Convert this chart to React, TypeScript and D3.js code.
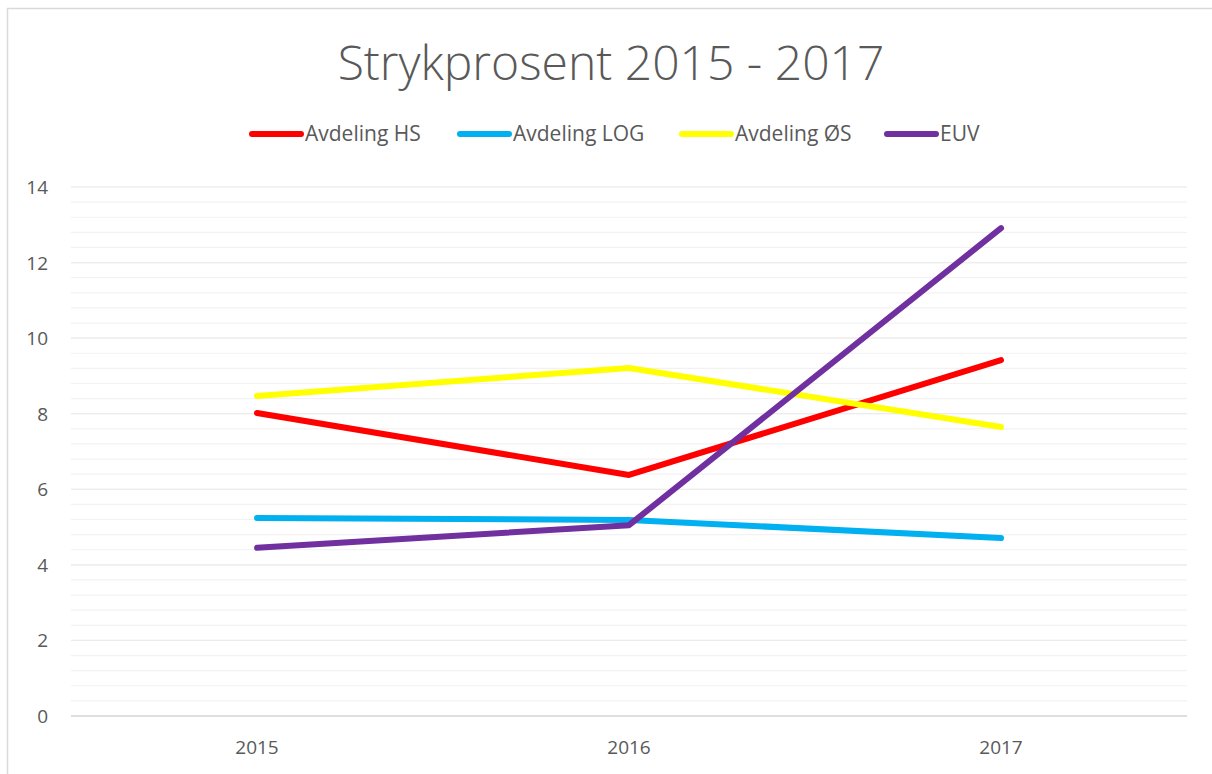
import React from "react";
import * as d3 from "d3";

const years = ["2015", "2016", "2017"];
const seriesNames = ["Avdeling HS", "Avdeling LOG", "Avdeling ØS", "EUV"];
const seriesColors = ["#ff0000", "#00b0f0", "#ffff00", "#7030a0"];
const hsValues = [8.02, 6.38, 9.42];
const logValues = [5.24, 5.19, 4.71];
const osValues = [8.47, 9.21, 7.65];
const euvValues = [4.45, 5.05, 12.91];
const yTicks = [0, 2, 4, 6, 8, 10, 12, 14];

const W = 1212;
const H = 774;
const FONT = "'Open Sans', 'Noto Sans', sans-serif";

export default function App() {
  const allValues = [hsValues, logValues, osValues, euvValues];
  const x = d3.scaleBand().domain(years).range([71, 1187]);
  const y = d3.scaleLinear().domain([0, 14]).range([716, 187]);
  const minor = d3.range(0, 14.001, 0.4).map((v) => +v.toFixed(1));
  const line = d3
    .line<number>()
    .x((_, i) => (x(years[i]) as number) + x.bandwidth() / 2)
    .y((v) => y(v));

  const legendTextX = [305, 513, 735, 940];

  return (
    <svg width={W} height={H} style={{ position: "absolute", left: 0, top: 0, display: "block" }}>
      <rect x={0} y={0} width={W} height={H} fill="#fff" />
      <line x1={7.5} y1={8} x2={7.5} y2={H} stroke="#d9d9d9" strokeWidth={1.5} />
      <line x1={7} y1={8.5} x2={W} y2={8.5} stroke="#d9d9d9" strokeWidth={1.5} />
      <text
        x={611}
        y={80}
        textAnchor="middle"
        fontFamily={FONT}
        fontWeight={300}
        fontSize={48}
        fill="#595959"
      >
        Strykprosent 2015 - 2017
      </text>
      {seriesNames.map((name, i) => (
        <g key={name}>
          <line
            x1={legendTextX[i] - 53}
            x2={legendTextX[i] - 4}
            y1={134}
            y2={134}
            stroke={seriesColors[i]}
            strokeWidth={6}
            strokeLinecap="round"
          />
          <text x={legendTextX[i]} y={141} fontFamily={FONT} fontSize={21} fill="#595959">
            {name}
          </text>
        </g>
      ))}
      {minor.map((v) => (
        <line key={v} x1={71} x2={1187} y1={y(v)} y2={y(v)} stroke="#f2f2f2" strokeWidth={1.2} />
      ))}
      {yTicks.map((v) => (
        <line key={"g" + v} x1={71} x2={1187} y1={y(v)} y2={y(v)} stroke="#ececec" strokeWidth={1.2} />
      ))}
      <line x1={71} x2={1187} y1={y(0)} y2={y(0)} stroke="#d9d9d9" strokeWidth={1.5} />
      {yTicks.map((v) => (
        <text
          key={"t" + v}
          x={48}
          y={y(v) + 7}
          textAnchor="end"
          fontFamily={FONT}
          fontSize={19}
          fill="#595959"
        >
          {v}
        </text>
      ))}
      {years.map((yr) => (
        <text
          key={yr}
          x={(x(yr) as number) + x.bandwidth() / 2}
          y={754}
          textAnchor="middle"
          fontFamily={FONT}
          fontSize={19}
          fill="#595959"
        >
          {yr}
        </text>
      ))}
      {allValues.map((vals, i) => (
        <path
          key={seriesNames[i]}
          d={line(vals) || ""}
          fill="none"
          stroke={seriesColors[i]}
          strokeWidth={6}
          strokeLinecap="round"
          strokeLinejoin="round"
        />
      ))}
    </svg>
  );
}
